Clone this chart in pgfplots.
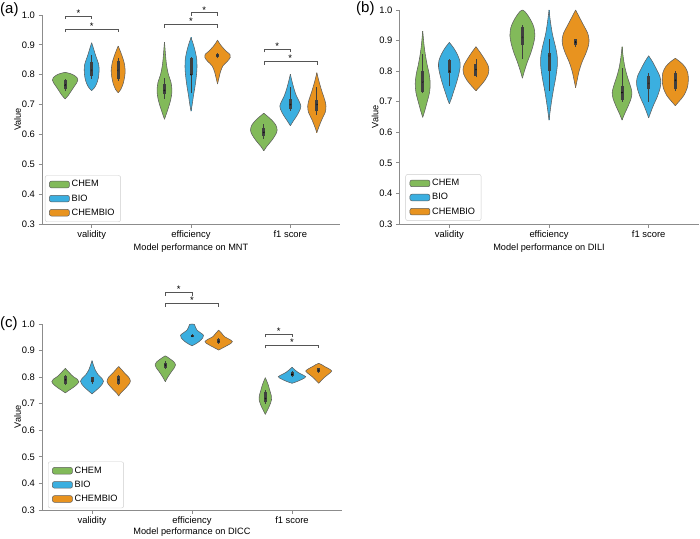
\documentclass[border=0pt]{standalone}
\usepackage{fontspec}
\setmainfont{Liberation Sans}
\usepackage{pgfplots}
\usepackage{pgfplotstable}
\pgfplotsset{compat=1.18}

\definecolor{cchem}{HTML}{82BA5A}
\definecolor{cbio}{HTML}{3BAFE0}
\definecolor{ccb}{HTML}{E8931F}
\definecolor{vedge}{HTML}{5E5E5E}
\definecolor{inner}{HTML}{3F3F3F}
\definecolor{spine}{HTML}{8C8C8C}
\definecolor{brk}{HTML}{555555}
\definecolor{legc}{HTML}{CCCCCC}

% ---------------- panel (a): MNT ----------------
\pgfplotstableread{
y w
0.719 0
0.730 0.03
0.745 0.06
0.760 0.09
0.772 0.115
0.782 0.128
0.790 0.12
0.798 0.09
0.804 0.05
0.808 0
}\tAVc
\pgfplotstableread{
y w
0.747 0
0.755 0.025
0.770 0.05
0.790 0.068
0.815 0.075
0.835 0.07
0.855 0.05
0.875 0.03
0.895 0.012
0.907 0
}\tAVb
\pgfplotstableread{
y w
0.74 0
0.75 0.025
0.77 0.05
0.795 0.066
0.816 0.07
0.84 0.06
0.86 0.042
0.88 0.02
0.896 0
}\tAVo
\pgfplotstableread{
y w
0.651 0
0.67 0.02
0.69 0.04
0.715 0.062
0.745 0.075
0.775 0.065
0.80 0.04
0.83 0.022
0.86 0.012
0.89 0.005
0.909 0
}\tAEc
\pgfplotstableread{
y w
0.678 0
0.70 0.012
0.73 0.025
0.76 0.04
0.79 0.052
0.82 0.06
0.85 0.058
0.875 0.045
0.90 0.025
0.915 0.01
0.925 0
}\tAEb
\pgfplotstableread{
y w
0.769 0
0.79 0.015
0.81 0.03
0.83 0.055
0.845 0.10
0.858 0.128
0.868 0.125
0.878 0.09
0.892 0.05
0.905 0.02
0.916 0
}\tAEo
\pgfplotstableread{
y w
0.545 0
0.56 0.03
0.58 0.08
0.60 0.12
0.615 0.134
0.632 0.12
0.648 0.08
0.66 0.04
0.671 0
}\tAFc
\pgfplotstableread{
y w
0.629 0
0.645 0.03
0.665 0.07
0.685 0.1
0.695 0.106
0.71 0.09
0.73 0.06
0.755 0.035
0.78 0.015
0.802 0
}\tAFb
\pgfplotstableread{
y w
0.606 0
0.625 0.02
0.65 0.05
0.675 0.085
0.695 0.092
0.715 0.08
0.74 0.055
0.765 0.032
0.79 0.012
0.807 0
}\tAFo

% ---------------- panel (b): DILI ----------------
\pgfplotstableread{
y w
0.649 0
0.67 0.02
0.70 0.045
0.73 0.068
0.76 0.075
0.79 0.065
0.82 0.045
0.85 0.028
0.88 0.015
0.91 0.006
0.931 0
}\tBVc
\pgfplotstableread{
y w
0.693 0
0.71 0.02
0.735 0.045
0.76 0.07
0.79 0.095
0.815 0.109
0.835 0.104
0.855 0.08
0.875 0.045
0.894 0
}\tBVb
\pgfplotstableread{
y w
0.736 0
0.75 0.04
0.77 0.09
0.79 0.123
0.804 0.13
0.82 0.12
0.84 0.085
0.86 0.045
0.88 0
}\tBVo
\pgfplotstableread{
y w
0.777 0
0.80 0.02
0.83 0.05
0.86 0.085
0.89 0.112
0.915 0.125
0.94 0.118
0.96 0.095
0.98 0.06
0.995 0.025
1.0 0
}\tBEc
\pgfplotstableread{
y w
0.64 0
0.67 0.012
0.70 0.025
0.74 0.045
0.78 0.068
0.82 0.084
0.85 0.082
0.88 0.065
0.92 0.035
0.96 0.015
1.0 0
}\tBEb
\pgfplotstableread{
y w
0.746 0
0.77 0.015
0.80 0.035
0.83 0.065
0.86 0.105
0.885 0.13
0.905 0.134
0.925 0.12
0.95 0.08
0.975 0.04
1.0 0
}\tBEo
\pgfplotstableread{
y w
0.64 0
0.66 0.025
0.685 0.06
0.71 0.09
0.73 0.099
0.75 0.085
0.78 0.055
0.81 0.03
0.845 0.012
0.88 0
}\tBFc
\pgfplotstableread{
y w
0.647 0
0.665 0.02
0.69 0.05
0.715 0.085
0.745 0.115
0.765 0.122
0.785 0.11
0.805 0.08
0.83 0.04
0.85 0
}\tBFb
\pgfplotstableread{
y w
0.687 0
0.70 0.035
0.72 0.085
0.745 0.12
0.77 0.131
0.795 0.125
0.815 0.095
0.83 0.05
0.842 0
}\tBFo

% ---------------- panel (c): DICC ----------------
\pgfplotstableread{
y w
0.741 0
0.75 0.035
0.76 0.075
0.772 0.115
0.783 0.135
0.792 0.12
0.802 0.08
0.815 0.045
0.825 0.02
0.833 0
}\tCVc
\pgfplotstableread{
y w
0.737 0
0.745 0.025
0.76 0.07
0.775 0.105
0.785 0.115
0.795 0.1
0.81 0.06
0.825 0.035
0.845 0.015
0.862 0
}\tCVb
\pgfplotstableread{
y w
0.729 0
0.74 0.02
0.755 0.06
0.772 0.1
0.785 0.117
0.80 0.1
0.815 0.06
0.828 0.03
0.84 0
}\tCVo
\pgfplotstableread{
y w
0.783 0
0.80 0.025
0.82 0.06
0.835 0.09
0.846 0.102
0.858 0.085
0.868 0.05
0.876 0.02
0.88 0
}\tCEc
\pgfplotstableread{
y w
0.918 0
0.925 0.035
0.935 0.075
0.948 0.108
0.958 0.115
0.967 0.085
0.977 0.05
0.988 0.035
0.998 0.025
1.0 0
}\tCEb
\pgfplotstableread{
y w
0.902 0
0.91 0.04
0.92 0.09
0.928 0.125
0.934 0.137
0.942 0.11
0.952 0.06
0.965 0.03
0.977 0
}\tCEo
\pgfplotstableread{
y w
0.66 0
0.675 0.02
0.695 0.045
0.715 0.062
0.73 0.06
0.75 0.045
0.77 0.03
0.785 0.015
0.798 0
}\tCFc
\pgfplotstableread{
y w
0.777 0
0.782 0.04
0.79 0.09
0.797 0.125
0.802 0.137
0.81 0.1
0.818 0.06
0.827 0.03
0.837 0
}\tCFb
\pgfplotstableread{
y w
0.777 0
0.787 0.025
0.80 0.06
0.812 0.1
0.823 0.13
0.832 0.1
0.84 0.06
0.847 0.03
0.852 0
}\tCFo

% violin: center, colour, profile table
\newcommand\violin[3]{%
  \addplot[forget plot, fill=#2, draw=none, smooth] table[x expr={#1+\thisrow{w}}, y=y]{#3};
  \addplot[forget plot, fill=#2, draw=none, smooth] table[x expr={#1-\thisrow{w}}, y=y]{#3};
  \addplot[forget plot, draw=#2, line width=0.9pt] table[x expr={#1}, y=y]{#3};
  \addplot[forget plot, draw=vedge, line width=0.55pt, smooth] table[x expr={#1+\thisrow{w}}, y=y]{#3};
  \addplot[forget plot, draw=vedge, line width=0.55pt, smooth] table[x expr={#1-\thisrow{w}}, y=y]{#3};
}
% inner box: center, lo, q1, median, q3, hi
\newcommand\ibox[6]{%
  \addplot[forget plot, draw=inner, line width=0.9pt] coordinates {(#1,#2) (#1,#6)};
  \addplot[forget plot, draw=inner, line width=3pt] coordinates {(#1,#3) (#1,#5)};
  \addplot[forget plot, only marks, mark=*, mark size=0.75pt, draw=none, fill=white] coordinates {(#1,#4)};
}
% significance bracket: x1, x2, ytop, yleg, xmid, ystar
\newcommand\sig[6]{%
  \addplot[forget plot, draw=brk, line width=0.6pt] coordinates {(#1,#4) (#1,#3) (#2,#3) (#2,#4)};
  \node[font=\fontsize{9.5}{9.5}\selectfont, inner sep=0pt, text=black] at (axis cs:#5,#6) {*};
}

\pgfplotsset{
  vstyle/.style={
    scale only axis,
    xmin=-0.5, xmax=2.5, ymin=0.3, ymax=1.0,
    axis x line*=bottom, axis y line*=left,
    axis line style={spine, line width=0.8pt},
    xtick={0,1,2}, xticklabels={validity,efficiency,f1 score},
    ytick={0.3,0.4,0.5,0.6,0.7,0.8,0.9,1.0},
    yticklabel style={/pgf/number format/.cd, fixed, fixed zerofill, precision=1, assume math mode=true},
    tick style={spine, line width=0.8pt},
    major tick length=3.5pt, tick align=outside,
    tick label style={font=\fontsize{9.4}{11}\selectfont},
    label style={font=\fontsize{9.2}{11}\selectfont},
    xlabel style={yshift=2.5pt},
    ylabel={Value}, ylabel shift=-6pt,
    clip=false,
    legend cell align=left,
    legend style={anchor=south west, draw=legc, rounded corners=2pt, fill=white,
      font=\fontsize{9.2}{11}\selectfont, row sep=2.2pt, inner xsep=4pt, inner ysep=3pt},
    legend image code/.code={\draw[##1] (0pt,-3.3pt) rectangle (20pt,3.3pt);},
  }
}

\begin{document}
\begin{tikzpicture}
\useasboundingbox (0,0) rectangle (700pt,-538pt);

\node[anchor=north west, inner sep=0pt, font=\fontsize{15}{15}\selectfont] at (0pt,-2pt) {(a)};
\node[anchor=north west, inner sep=0pt, font=\fontsize{15}{15}\selectfont] at (356pt,-1pt) {(b)};
\node[anchor=north west, inner sep=0pt, font=\fontsize{15}{15}\selectfont] at (0pt,-316pt) {(c)};

% ---------- (a) ----------
\begin{axis}[vstyle, at={(42pt,-224pt)}, anchor=south west, width=298pt, height=209pt,
  xlabel={Model performance on MNT}, legend style={at={(0.01,0.01)}}]
\addlegendimage{fill=cchem, draw=vedge, line width=0.5pt}\addlegendentry{CHEM}
\addlegendimage{fill=cbio, draw=vedge, line width=0.5pt}\addlegendentry{BIO}
\addlegendimage{fill=ccb, draw=vedge, line width=0.5pt}\addlegendentry{CHEMBIO}
\violin{-0.267}{cchem}{\tAVc} \ibox{-0.267}{0.745}{0.752}{0.765}{0.782}{0.785}
\violin{0}{cbio}{\tAVb}       \ibox{0}{0.785}{0.795}{0.815}{0.844}{0.866}
\violin{0.267}{ccb}{\tAVo}    \ibox{0.267}{0.78}{0.785}{0.815}{0.845}{0.855}
\violin{0.733}{cchem}{\tAEc}  \ibox{0.733}{0.72}{0.735}{0.747}{0.77}{0.79}
\violin{1}{cbio}{\tAEb}       \ibox{1}{0.74}{0.80}{0.80}{0.855}{0.86}
\violin{1.267}{ccb}{\tAEo}    \ibox{1.267}{0.855}{0.858}{0.865}{0.87}{0.872}
\violin{1.733}{cchem}{\tAFc}  \ibox{1.733}{0.585}{0.595}{0.607}{0.622}{0.635}
\violin{2}{cbio}{\tAFb}       \ibox{2}{0.68}{0.685}{0.70}{0.72}{0.76}
\violin{2.267}{ccb}{\tAFo}    \ibox{2.267}{0.665}{0.68}{0.70}{0.715}{0.76}
\sig{-0.267}{0}{0.997}{0.987}{-0.133}{1.006}
\sig{-0.267}{0.267}{0.953}{0.943}{0}{0.962}
\sig{1}{1.267}{1.008}{0.998}{1.133}{1.017}
\sig{0.733}{1.267}{0.969}{0.958}{1}{0.978}
\sig{1.733}{2}{0.885}{0.875}{1.867}{0.894}
\sig{1.733}{2.267}{0.845}{0.834}{2}{0.854}
\end{axis}

% ---------- (b) ----------
\begin{axis}[vstyle, at={(399.5pt,-224pt)}, anchor=south west, width=299pt, height=214pt,
  xlabel={Model performance on DILI}, legend style={at={(0.02,0.015)}}]
\addlegendimage{fill=cchem, draw=vedge, line width=0.5pt}\addlegendentry{CHEM}
\addlegendimage{fill=cbio, draw=vedge, line width=0.5pt}\addlegendentry{BIO}
\addlegendimage{fill=ccb, draw=vedge, line width=0.5pt}\addlegendentry{CHEMBIO}
\violin{-0.267}{cchem}{\tBVc} \ibox{-0.267}{0.727}{0.733}{0.765}{0.80}{0.855}
\violin{0}{cbio}{\tBVb}       \ibox{0}{0.75}{0.795}{0.80}{0.835}{0.84}
\violin{0.267}{ccb}{\tBVo}    \ibox{0.267}{0.78}{0.785}{0.805}{0.825}{0.84}
\violin{0.733}{cchem}{\tBEc}  \ibox{0.733}{0.84}{0.885}{0.91}{0.945}{0.95}
\violin{1}{cbio}{\tBEb}       \ibox{1}{0.735}{0.80}{0.85}{0.86}{0.905}
\violin{1.267}{ccb}{\tBEo}    \ibox{1.267}{0.88}{0.885}{0.895}{0.905}{0.905}
\violin{1.733}{cchem}{\tBFc}  \ibox{1.733}{0.70}{0.705}{0.73}{0.75}{0.81}
\violin{2}{cbio}{\tBFb}       \ibox{2}{0.70}{0.74}{0.76}{0.785}{0.795}
\violin{2.267}{ccb}{\tBFo}    \ibox{2.267}{0.735}{0.74}{0.77}{0.795}{0.80}
\end{axis}

% ---------- (c) ----------
\begin{axis}[vstyle, at={(42pt,-510pt)}, anchor=south west, width=300pt, height=186pt,
  xlabel={Model performance on DICC}, xlabel style={yshift=2.5pt}, legend style={at={(0.02,0.01)}}]
\addlegendimage{fill=cchem, draw=vedge, line width=0.5pt}\addlegendentry{CHEM}
\addlegendimage{fill=cbio, draw=vedge, line width=0.5pt}\addlegendentry{BIO}
\addlegendimage{fill=ccb, draw=vedge, line width=0.5pt}\addlegendentry{CHEMBIO}
\violin{-0.267}{cchem}{\tCVc} \ibox{-0.267}{0.77}{0.775}{0.79}{0.805}{0.81}
\violin{0}{cbio}{\tCVb}       \ibox{0}{0.775}{0.78}{0.785}{0.80}{0.80}
\violin{0.267}{ccb}{\tCVo}    \ibox{0.267}{0.77}{0.775}{0.79}{0.805}{0.81}
\violin{0.733}{cchem}{\tCEc}  \ibox{0.733}{0.83}{0.835}{0.845}{0.855}{0.86}
\violin{1}{cbio}{\tCEb}       \ibox{1}{0.95}{0.952}{0.955}{0.96}{0.962}
\violin{1.267}{ccb}{\tCEo}    \ibox{1.267}{0.925}{0.93}{0.935}{0.945}{0.948}
\violin{1.733}{cchem}{\tCFc}  \ibox{1.733}{0.70}{0.705}{0.72}{0.745}{0.75}
\violin{2}{cbio}{\tCFb}       \ibox{2}{0.80}{0.803}{0.81}{0.82}{0.822}
\violin{2.267}{ccb}{\tCFo}    \ibox{2.267}{0.815}{0.818}{0.825}{0.833}{0.835}
\sig{0.733}{1}{1.119}{1.107}{0.867}{1.13}
\sig{0.733}{1.267}{1.078}{1.065}{1}{1.089}
\sig{1.733}{2}{0.962}{0.950}{1.867}{0.973}
\sig{1.733}{2.267}{0.921}{0.908}{2}{0.932}
\end{axis}
\end{tikzpicture}
\end{document}
